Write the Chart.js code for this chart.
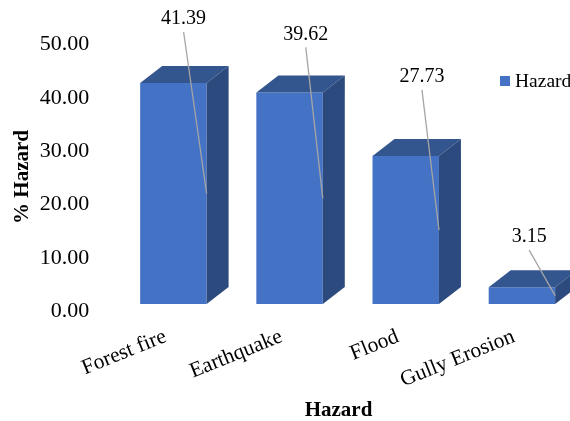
<!DOCTYPE html>
<html>
<head>
<meta charset="utf-8">
<script src="https://cdn.jsdelivr.net/npm/chart.js@4/dist/chart.umd.js"></script>
<style>
	html, body { margin: 0; padding: 0; background: #fff; overflow: hidden; }
	canvas { display: block; }
</style>
</head>
<body>
<canvas id="myChart" width="600" height="421"></canvas>
<script>
const categories = ['Forest fire', 'Earthquake', 'Flood', 'Gully Erosion'];
const hazardValues = [41.39, 39.62, 27.73, 3.15];
const yTicks = [0, 10, 20, 30, 40, 50];

// where each value label sits, relative to the top right corner of its bar
const labelOffsets = [[-23, -64], [-17, -58], [-17, -79], [-26, -50]];

const FONT = '"Liberation Serif", "Times New Roman", serif';
const DEPTH_X = 22, DEPTH_Y = 17;

function fillPoly(ctx, color, pts) {
	ctx.fillStyle = color;
	ctx.beginPath();
	pts.forEach((p, i) => i ? ctx.lineTo(p[0], p[1]) : ctx.moveTo(p[0], p[1]));
	ctx.closePath();
	ctx.fill();
}

// top and side faces of the boxes
const boxFaces = {
	id: 'boxFaces',
	afterDatasetsDraw(chart) {
		const ctx = chart.ctx;
		chart.getDatasetMeta(0).data.forEach(bar => {
			const l = bar.x - bar.width / 2, r = bar.x + bar.width / 2;
			const t = bar.y, b = bar.base;
			fillPoly(ctx, '#34568f', [[l, t], [l + DEPTH_X, t - DEPTH_Y], [r + DEPTH_X, t - DEPTH_Y], [r, t]]);
			fillPoly(ctx, '#2c4a7e', [[r, t], [r + DEPTH_X, t - DEPTH_Y], [r + DEPTH_X, b - DEPTH_Y], [r, b]]);
		});
	}
};

// value labels with their leader lines, axis titles and the legend
const annotations = {
	id: 'annotations',
	afterDraw(chart) {
		const ctx = chart.ctx;
		ctx.save();
		ctx.fillStyle = '#000';
		ctx.textAlign = 'center';
		ctx.textBaseline = 'middle';

		chart.getDatasetMeta(0).data.forEach((bar, i) => {
			const r = bar.x + bar.width / 2;
			const lx = r + labelOffsets[i][0], ly = bar.y + labelOffsets[i][1];
			ctx.strokeStyle = '#a5a5a5';
			ctx.lineWidth = 1.3;
			ctx.beginPath();
			ctx.moveTo(lx, ly + 13);
			ctx.lineTo(r, (bar.y + bar.base) / 2);
			ctx.stroke();
			ctx.font = '20px ' + FONT;
			ctx.fillStyle = '#000';
			ctx.fillText(hazardValues[i].toFixed(2), lx, ly);
		});

		ctx.font = 'bold 21px ' + FONT;
		ctx.fillText('Hazard', 338.5, 411);
		ctx.save();
		ctx.translate(23, 177);
		ctx.rotate(-Math.PI / 2);
		ctx.fillText('% Hazard', 0, 0);
		ctx.restore();

		ctx.fillStyle = '#4472c4';
		ctx.fillRect(500, 76, 10, 10);
		ctx.fillStyle = '#000';
		ctx.textAlign = 'left';
		ctx.font = '19.5px ' + FONT;
		ctx.fillText('Hazard', 515, 82);
		ctx.restore();
	}
};

const myChart = new Chart(document.getElementById('myChart').getContext('2d'), {
	type: 'bar',
	data: {
		labels: categories,
		datasets: [{
			label: 'Hazard',
			data: hazardValues,
			backgroundColor: '#4472c4',
			barPercentage: 1,
			categoryPercentage: 0.572
		}]
	},
	options: {
		responsive: false,
		animation: false,
		layout: { padding: { top: 37, right: 20, left: 0, bottom: 0 } },
		plugins: {
			legend: { display: false },
			tooltip: { enabled: false }
		},
		scales: {
			x: {
				grid: { display: false },
				border: { display: false },
				afterFit: s => { s.height = 117; },
				ticks: {
					color: '#000',
					font: { family: FONT, size: 21.5 },
					padding: 12,
					labelOffset: -8,
					minRotation: 22,
					maxRotation: 22,
					autoSkip: false
				}
			},
			y: {
				min: 0,
				max: 50,
				grid: { display: false },
				border: { display: false },
				afterFit: s => { s.width = 115.3; },
				afterBuildTicks: s => { s.ticks = yTicks.map(v => ({ value: v })); },
				ticks: {
					color: '#000',
					font: { family: FONT, size: 22 },
					padding: 18,
					labelOffset: 7.5,
					callback: v => v.toFixed(2)
				}
			}
		}
	},
	plugins: [boxFaces, annotations]
});
</script>
</body>
</html>
